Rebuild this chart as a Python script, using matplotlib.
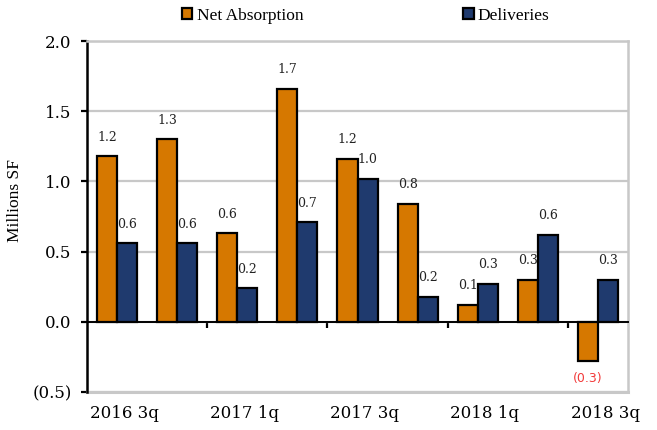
"""Quarterly net absorption vs. deliveries, millions of square feet."""

import matplotlib
matplotlib.use("Agg")
import matplotlib.pyplot as plt
import matplotlib.ticker as mticker
from matplotlib.patches import Patch
import numpy as np

# ---------------------------------------------------------------------------
# Data
# ---------------------------------------------------------------------------

quarters = ["2016 3q", "2016 4q", "2017 1q", "2017 2q", "2017 3q",
            "2017 4q", "2018 1q", "2018 2q", "2018 3q"]
net_absorption = [1.18, 1.30, 0.63, 1.66, 1.16, 0.84, 0.12, 0.30, -0.28]
deliveries = [0.56, 0.56, 0.24, 0.71, 1.02, 0.18, 0.27, 0.62, 0.30]
y_ticks = [-0.5, 0.0, 0.5, 1.0, 1.5, 2.0]

ORANGE = "#D67800"
NAVY = "#1F3A6E"
GRID = "#C8C8C8"
NEG_RED = "#F23A3A"

plt.rcParams.update({
    "font.family": "DejaVu Serif",
    "font.size": 12,
})


def fmt_millions(v, _=None):
    return f"({abs(v):.1f})" if v < 0 else f"{v:.1f}"


fig = plt.figure(figsize=(6.57, 4.30), dpi=100)
ax = fig.add_axes([87 / 657, 1 - 392 / 430, (628 - 87) / 657, (392 - 41) / 430])

x = np.arange(len(quarters))
w = 1 / 3

bars_na = ax.bar(x - w / 2, net_absorption, width=w, color=ORANGE,
                 edgecolor="black", linewidth=1.6, zorder=3)
bars_del = ax.bar(x + w / 2, deliveries, width=w, color=NAVY,
                  edgecolor="black", linewidth=1.6, zorder=3)

# Value labels
for bars, vals in ((bars_na, net_absorption), (bars_del, deliveries)):
    for bar, val in zip(bars, vals):
        cx = bar.get_x() + bar.get_width() / 2
        if val >= 0:
            ax.annotate(fmt_millions(val), (cx, val), xytext=(0, 9),
                        textcoords="offset points", ha="center", va="bottom",
                        fontsize=9, color="#222222", zorder=4)
        else:
            ax.annotate(fmt_millions(val), (cx, val), xytext=(0, -8),
                        textcoords="offset points", ha="center", va="top",
                        fontsize=9, color=NEG_RED, family="DejaVu Sans",
                        zorder=4)

ax.set_xlim(-0.5, len(quarters) - 0.5)
ax.set_ylim(-0.5, 2.0)

# Y axis
ax.set_yticks(y_ticks)
ax.yaxis.set_major_formatter(mticker.FuncFormatter(fmt_millions))
ax.tick_params(axis="y", direction="out", length=4, width=1.6, pad=7,
               colors="black", labelsize=12)
ax.yaxis.grid(True, color=GRID, linewidth=1.6, zorder=0)
ax.set_axisbelow(True)
ax.set_ylabel("Millions SF", family="Liberation Serif", fontsize=12.5)
ax.yaxis.set_label_coords(-0.118, 0.545)

# Category axis sits on the zero line, ticks between every other pair
ax.spines["bottom"].set_position(("data", 0))
ax.spines["bottom"].set_linewidth(1.4)
ax.spines["bottom"].set_zorder(5)
ax.spines["left"].set_linewidth(1.8)
for side in ("top", "right"):
    ax.spines[side].set_color(GRID)
    ax.spines[side].set_linewidth(1.8)
ax.plot([0, 1], [0, 0], transform=ax.transAxes, color=GRID, linewidth=2.2,
        clip_on=False, zorder=1)

ax.set_xticks(x[1:-1:2] + 0.5)
ax.set_xticklabels([])
ax.tick_params(axis="x", direction="out", length=4, width=1.6, colors="black")

for i in range(0, len(quarters), 2):
    ax.text(i + 0.12, -0.06, quarters[i], transform=ax.get_xaxis_transform(),
            ha="center", va="center", fontsize=12)

# Legend across the top
handles = [Patch(facecolor=ORANGE, edgecolor="black", linewidth=1.6),
           Patch(facecolor=NAVY, edgecolor="black", linewidth=1.6)]
fig.legend(handles, ["Net Absorption", "Deliveries"], loc="center left",
           bbox_to_anchor=(182 / 657, 1 - 16 / 430), ncol=2, frameon=False,
           handlelength=0.6, handleheight=0.6, handletextpad=0.25,
           columnspacing=9.2, borderpad=0, borderaxespad=0,
           prop={"family": "Liberation Serif", "size": 12.5})

fig.savefig("out.png", dpi=100, facecolor="white")
